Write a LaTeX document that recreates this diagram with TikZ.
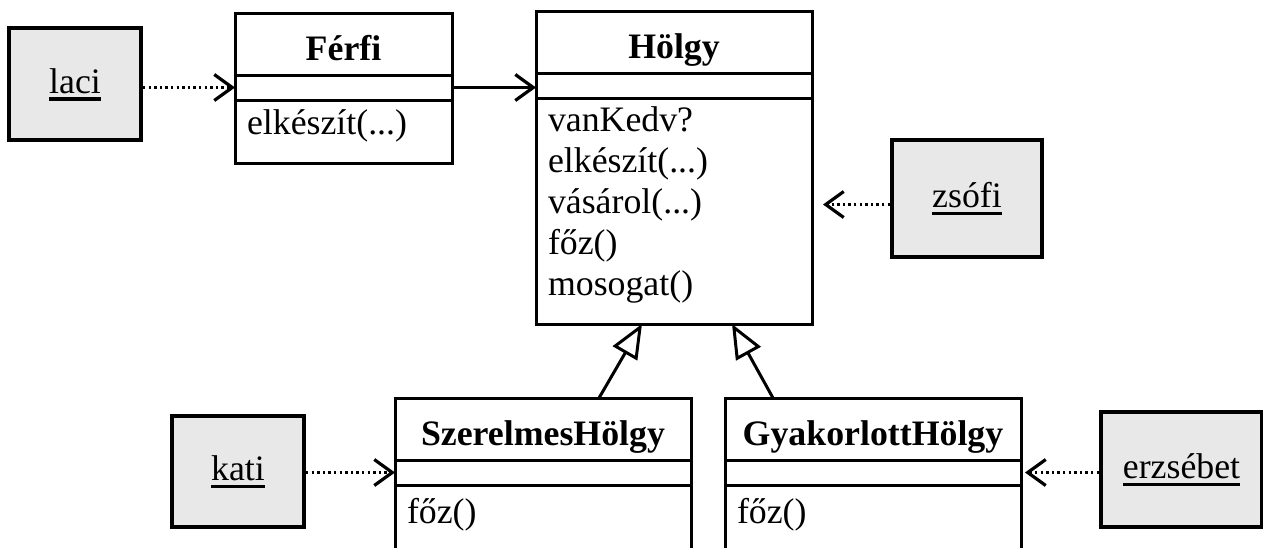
\documentclass[tikz,border=0pt]{standalone}
\usepackage{fontspec}
\setmainfont{Liberation Serif}
\usetikzlibrary{arrows.meta,positioning,calc}

\newcommand{\umlfont}{\fontsize{17.9pt}{20.5pt}\selectfont}
% underlined object name
\newcommand{\objname}[1]{\setbox0\hbox{#1}\rlap{\rule[-3.8pt]{\wd0}{1.6pt}}\box0}
% operations compartment: [gap above first line]{width}{height}{lines}
\newcommand{\opsbox}[4][2.5pt]{\parbox[c][#3][t]{#2}{\vspace*{#1}\strut#4}}

\begin{document}
\begin{tikzpicture}[x=0.5pt, y=-0.5pt,
    clshead/.style={rectangle, draw=black, line width=1.5pt, outer sep=0pt, inner sep=0pt, text height=23.5pt, text depth=7.5pt, font=\umlfont\bfseries},
    clsattr/.style={rectangle, draw=black, line width=1.5pt, outer sep=0pt, inner sep=0pt, minimum height=12.5pt},
    clsops/.style={rectangle, draw=black, line width=1.5pt, outer sep=0pt, inner xsep=6pt, inner ysep=0pt, font=\umlfont},
    objbox/.style={rectangle, draw=black, line width=2pt, fill=black!9, text height=13pt, text depth=4pt, font=\umlfont},
    opentip/.style={-{Straight Barb[length=9pt,width=13pt,line width=1.6pt]}},
    depends/.style={opentip, line width=1.8pt, dash pattern=on 1.2pt off 1.6pt},
    assoc/.style={opentip, line width=1.4pt},
    inherit/.style={line width=1.5pt, -{Triangle[open,fill=white,length=17pt,width=14pt]}}
  ]
    \useasboundingbox (0,0) rectangle (1263,547);
    \fill[white] (0,0) rectangle (1263,547);
    \clip (0,0) rectangle (1263,547);

    % classes
    \node[clshead, minimum width=108.5pt, anchor=north west] (fer) at (235,13) {Férfi};
    \node[clsattr, minimum width=108.5pt, below=0pt of fer] (fer-a) {};
    \node[clsops, minimum width=108.5pt, below=0pt of fer-a] (fer-o) {\opsbox[3pt]{96.5pt}{31.5pt}{elkészít(...)}};

    \node[clshead, minimum width=138pt, anchor=north west] (hol) at (536,11) {Hölgy};
    \node[clsattr, minimum width=138pt, below=0pt of hol] (hol-a) {};
    \node[clsops, minimum width=138pt, below=0pt of hol-a] (hol-o) {\opsbox[2.3pt]{126pt}{113pt}{vanKedv?\\ elkészít(...)\\ vásárol(...)\\ főz()\\ mosogat()}};

    \node[clshead, minimum width=148pt, anchor=north west] (szh) at (395,398) {SzerelmesHölgy};
    \node[clsattr, minimum width=148pt, below=0pt of szh] (szh-a) {};
    \node[clsops, minimum width=148pt, below=0pt of szh-a] (szh-o) {\opsbox[5pt]{136pt}{56pt}{főz()}};

    \node[clshead, minimum width=148pt, anchor=north west] (gyh) at (725,398) {GyakorlottHölgy};
    \node[clsattr, minimum width=148pt, below=0pt of gyh] (gyh-a) {};
    \node[clsops, minimum width=148pt, below=0pt of gyh-a] (gyh-o) {\opsbox[5pt]{136pt}{56pt}{főz()}};

    % objects
    \node[objbox, minimum width=66pt, minimum height=56pt] (laci) at (75,84) {\objname{laci}};
    \node[objbox, minimum width=75pt, minimum height=58.5pt] (zsofi) at (967,198.5) {\objname{zsófi}};
    \node[objbox, minimum width=66pt, minimum height=55.5pt] (kati) at (238,471.5) {\objname{kati}};
    \node[objbox, minimum width=80.5pt, minimum height=57.5pt] (erzs) at (1181.5,469.5) {\objname{erzsébet}};

    % links
    \draw[depends] (laci.east |- fer-a) -- (fer-a.west);
    \draw[assoc] (fer-a.east) -- (fer-a.east -| hol-a.west);
    \draw[depends, shorten >=5.5pt] ([yshift=-3pt]zsofi.west) -- ([yshift=-3pt]zsofi.west -| hol-o.east);
    \draw[depends] (kati.east |- szh-a) -- (szh-a.west);
    \draw[depends, shorten >=2pt] (erzs.west |- gyh-a) -- (gyh-a.east);

    % generalisation
    \draw[inherit] ($(szh.north)+(56,0)$) -- ($(hol-o.south)+(-32,0)$);
    \draw[inherit] ($(gyh.north)+(-100,0)$) -- ($(hol-o.south)+(58,0)$);
\end{tikzpicture}
\end{document}
